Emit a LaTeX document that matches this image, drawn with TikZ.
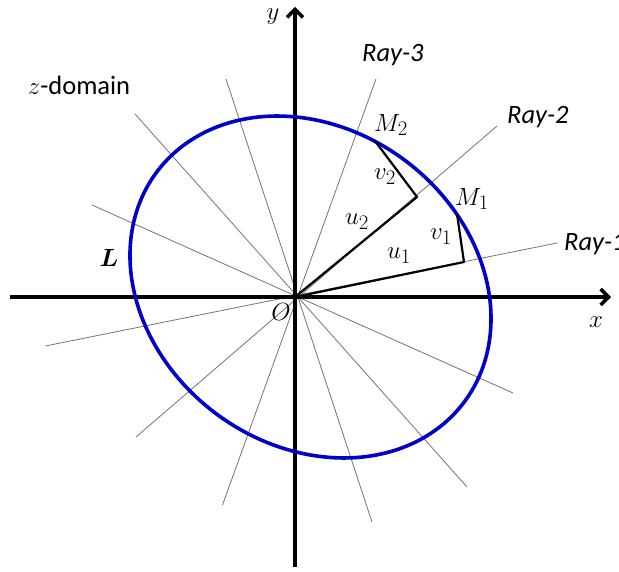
\documentclass[tikz,border=0pt]{standalone}
\usepackage{bm}
\usepackage{fontspec}
\setmainfont{Carlito}
\usetikzlibrary{arrows.meta}
\definecolor{curveblue}{RGB}{0,0,205}
\definecolor{raygray}{RGB}{115,115,115}
\begin{document}
\begin{tikzpicture}[x=1pt,y=-1pt,
  axis/.style={line width=3.5pt, -{Straight Barb[length=8pt,width=16pt]}},
  ray/.style={raygray, line width=0.8pt},
  seg/.style={line width=2.2pt, line join=round},
  curve/.style={curveblue, line width=3.6pt},
  mlbl/.style={font=\fontsize{29}{32}\selectfont, inner sep=0pt},
  tlbl/.style={font=\fontsize{26.5}{30}\selectfont, inner sep=0pt},
  ]
\useasboundingbox (0,0) rectangle (619,572);
\clip (0,0) rectangle (619,572);
\coordinate (O) at (295,297);
% ray end points
\coordinate (r1a) at (45.5,346); \coordinate (r1b) at (557,243);
\coordinate (r2a) at (136,437);  \coordinate (r2b) at (497,126);
\coordinate (r3a) at (222.5,505);\coordinate (r3b) at (376,79);
\coordinate (r4a) at (372,522);  \coordinate (r4b) at (226,79);
\coordinate (r5a) at (467,487);  \coordinate (r5b) at (135,114);
\coordinate (r6a) at (513,393);  \coordinate (r6b) at (92,205);
\foreach \i in {1,...,6} {\draw[ray] (r\i a) -- (r\i b);}
% axes
\coordinate (xs) at (10,297);  \coordinate (xe) at (611,297);
\coordinate (ys) at (295,567); \coordinate (ye) at (295,7);
\draw[axis] (xs) -- (xe);
\draw[axis] (ys) -- (ye);
% closed curve L (tilted ellipse)
\draw[curve] plot[domain=0:360, samples=150, smooth, variable=\t]
  ({310.5 + 192*cos(36.8)*cos(\t) - 158*sin(36.8)*sin(\t)},
   {287 + 192*sin(36.8)*cos(\t) + 158*cos(36.8)*sin(\t)}) -- cycle;
% u, v segments
\coordinate (M1) at (457,214); \coordinate (F1) at (464,262);
\coordinate (M2) at (375,141); \coordinate (F2) at (417,197);
\draw[seg] (O) -- (F1) -- (M1);
\draw[seg] (O) -- (F2) -- (M2);
% labels
\node[mlbl, anchor=base] (ly) at (273,20) {$y$};
\node[mlbl] (lx) at (596,322) {$x$};
\node[mlbl] (lO) at (281,312) {$O$};
\node[mlbl] (lL) at (109,258) {$\bm{L}$};
\node[tlbl, anchor=base] (lz) at (79,95) {$z$-domain};
\node[tlbl, anchor=base west] (lr3) at (362,62) {\textit{Ray-3}};
\node[tlbl, anchor=base west] (lr2) at (507,124) {\textit{Ray-2}};
\node[tlbl, anchor=base west] (lr1) at (564,251) {\textit{Ray-1}};
\node[mlbl] (lM2) at (391,125) {$M_2$};
\node[mlbl] (lM1) at (472,199) {$M_1$};
\node[mlbl] (lv2) at (385,177) {$v_2$};
\node[mlbl] (lv1) at (441,237) {$v_1$};
\node[mlbl] (lu2) at (357,222) {$u_2$};
\node[mlbl] (lu1) at (399,256) {$u_1$};
\end{tikzpicture}
\end{document}
